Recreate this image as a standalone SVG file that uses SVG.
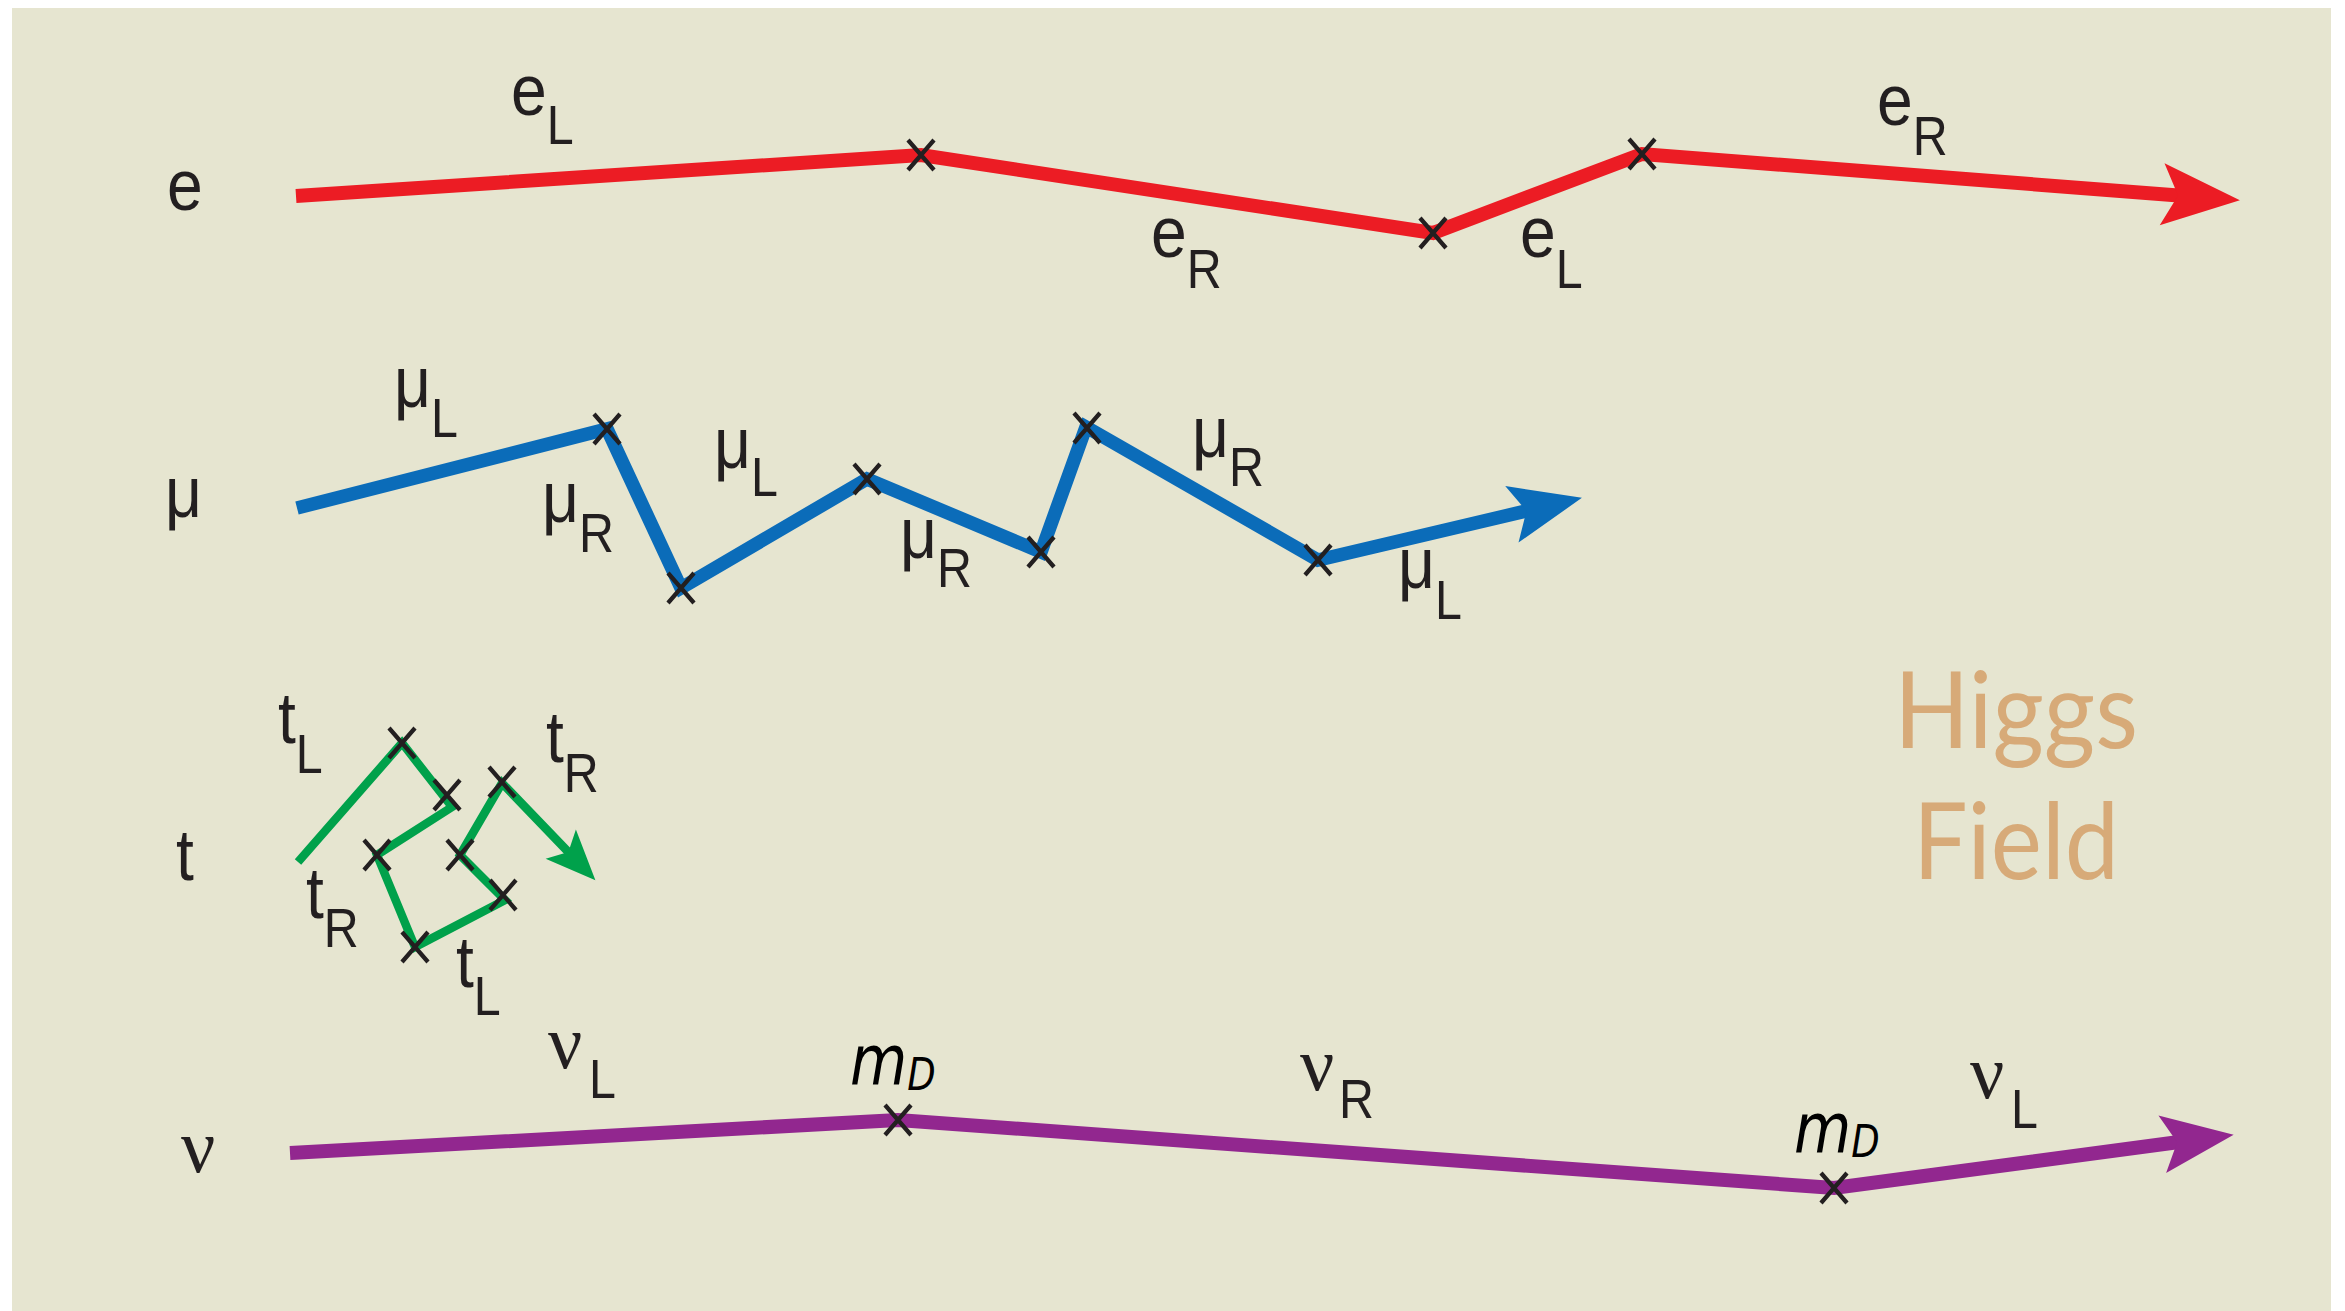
<svg xmlns="http://www.w3.org/2000/svg" xmlns:xlink="http://www.w3.org/1999/xlink" width="2345" height="1311" viewBox="0 0 2345 1311">
<style>
.lbl{font-family:"Liberation Sans",Arial,sans-serif;font-size:73px;fill:#231F20}
.sub{font-size:55px}
.nu{font-family:"Liberation Serif",serif;font-size:76px;fill:#231F20}
.md{font-family:"DejaVu Sans",sans-serif;font-style:italic;font-size:70px;fill:#000}
.mdsub{font-size:44px}
.higgs{font-family:Lato,"Open Sans",sans-serif;font-size:106px;fill:#D7AA78;text-anchor:middle}
.line{fill:none;stroke-linejoin:miter;stroke-miterlimit:3;stroke-linecap:butt}
.red{stroke:#EC1C24;stroke-width:14}
.blue{stroke:#0B6CB9;stroke-width:13.5}
.green{stroke:#00A14B;stroke-width:8.5}
.purple{stroke:#92278F;stroke-width:14}
.xm{fill:none;stroke:#231F20;stroke-width:4.2}
</style>
<defs>
<marker id="ahRed" markerUnits="userSpaceOnUse" markerWidth="84" markerHeight="68" viewBox="0 -34 80 68" refX="36" refY="0" orient="auto"><path d="M0,-31 L78,0 L0,31 L16,0 z" fill="#EC1C24"/></marker>
<marker id="ahBlue" markerUnits="userSpaceOnUse" markerWidth="80" markerHeight="64" viewBox="0 -32 76 64" refX="32" refY="0" orient="auto"><path d="M0,-29 L72,0 L0,29 L15,0 z" fill="#0B6CB9"/></marker>
<marker id="ahPurple" markerUnits="userSpaceOnUse" markerWidth="80" markerHeight="64" viewBox="0 -32 76 64" refX="32" refY="0" orient="auto"><path d="M0,-29 L72,0 L0,29 L15,0 z" fill="#92278F"/></marker>
<marker id="ahGreen" markerUnits="userSpaceOnUse" markerWidth="56" markerHeight="46" viewBox="0 -23 54 46" refX="22" refY="0" orient="auto"><path d="M0,-21 L50,0 L0,21 L11,0 z" fill="#00A14B"/></marker>
<path id="x" class="xm" d="M-13,-15 L13,15 M-13,15 L13,-15"/>
</defs>

<rect x="0" y="0" width="2345" height="1311" fill="#FFFFFF"/>
<rect id="background" x="12" y="8" width="2319" height="1303" fill="#E6E5D0"/>

<g id="connectors">
<polyline id="electron-line" class="line red" points="296,196 921,155 1433,233 1642,154 2198,197" marker-end="url(#ahRed)"/>
<polyline id="muon-line" class="line blue" points="297,508 607,429 681,588 867,479 1041,552 1086,427 1318,560 1543,507" marker-end="url(#ahBlue)"/>
<polyline id="top-line" class="line green" points="298,862 402,743 452,807 377,855 415,947 505,900 460,855 502,783 576,860" marker-end="url(#ahGreen)"/>
<polyline id="neutrino-line" class="line purple" points="290,1153 898,1120 1834,1188 2194,1140" marker-end="url(#ahPurple)"/>
</g>

<g id="mass-insertions">
<use xlink:href="#x" x="921" y="155"/>
<use xlink:href="#x" x="1433" y="233"/>
<use xlink:href="#x" x="1642" y="154"/>
<use xlink:href="#x" x="607" y="429"/>
<use xlink:href="#x" x="681" y="588"/>
<use xlink:href="#x" x="867" y="479"/>
<use xlink:href="#x" x="1041" y="552"/>
<use xlink:href="#x" x="1087" y="428"/>
<use xlink:href="#x" x="1318" y="560"/>
<use xlink:href="#x" x="402" y="743"/>
<use xlink:href="#x" x="447" y="795"/>
<use xlink:href="#x" x="377" y="855"/>
<use xlink:href="#x" x="415" y="947"/>
<use xlink:href="#x" x="503" y="895"/>
<use xlink:href="#x" x="460" y="855"/>
<use xlink:href="#x" x="502" y="782"/>
<use xlink:href="#x" x="898" y="1120"/>
<use xlink:href="#x" x="1834" y="1188"/>
</g>

<g id="node-electron">
<text class="lbl" transform="matrix(0.88 0 0 1 167 210)">e</text>
<text class="lbl" transform="matrix(0.88 0 0 1 511 115)">e<tspan class="sub" dy="29">L</tspan></text>
<text class="lbl" transform="matrix(0.88 0 0 1 1151 257)">e<tspan class="sub" dy="31">R</tspan></text>
<text class="lbl" transform="matrix(0.88 0 0 1 1520 257)">e<tspan class="sub" dy="31">L</tspan></text>
<text class="lbl" transform="matrix(0.88 0 0 1 1877 125)">e<tspan class="sub" dy="30">R</tspan></text>
</g>

<g id="node-muon">
<text class="lbl" transform="matrix(0.88 0 0 1 165 517)">μ</text>
<text class="lbl" transform="matrix(0.88 0 0 1 394 407)">μ<tspan class="sub" dy="30">L</tspan></text>
<text class="lbl" transform="matrix(0.88 0 0 1 542 522)">μ<tspan class="sub" dy="30">R</tspan></text>
<text class="lbl" transform="matrix(0.88 0 0 1 714 468)">μ<tspan class="sub" dy="28">L</tspan></text>
<text class="lbl" transform="matrix(0.88 0 0 1 900 558)">μ<tspan class="sub" dy="29">R</tspan></text>
<text class="lbl" transform="matrix(0.88 0 0 1 1192 457)">μ<tspan class="sub" dy="29">R</tspan></text>
<text class="lbl" transform="matrix(0.88 0 0 1 1398 588)">μ<tspan class="sub" dy="31">L</tspan></text>
</g>

<g id="node-top">
<text class="lbl" transform="matrix(0.88 0 0 1 176 880)">t</text>
<text class="lbl" transform="matrix(0.88 0 0 1 278 743)">t<tspan class="sub" dy="30">L</tspan></text>
<text class="lbl" transform="matrix(0.88 0 0 1 546 762)">t<tspan class="sub" dy="30">R</tspan></text>
<text class="lbl" transform="matrix(0.88 0 0 1 306 918)">t<tspan class="sub" dy="29">R</tspan></text>
<text class="lbl" transform="matrix(0.88 0 0 1 456 987)">t<tspan class="sub" dy="28">L</tspan></text>
</g>

<g id="node-neutrino">
<text class="nu" x="181" y="1172">ν</text>
<text class="nu" x="548" y="1068">ν</text>
<text class="lbl sub" transform="matrix(0.88 0 0 1 589 1098)">L</text>
<text class="nu" x="1300" y="1090">ν</text>
<text class="lbl sub" transform="matrix(0.88 0 0 1 1339 1118)">R</text>
<text class="nu" x="1970" y="1098">ν</text>
<text class="lbl sub" transform="matrix(0.88 0 0 1 2011 1128)">L</text>
<text class="md" transform="matrix(0.84 0 0 1 850 1085)">m<tspan class="mdsub" dy="5">D</tspan></text>
<text class="md" transform="matrix(0.84 0 0 1 1794 1153)">m<tspan class="mdsub" dy="4">D</tspan></text>
</g>

<g id="node-higgs-field">
<text class="higgs" x="2016" y="748" textLength="244" lengthAdjust="spacingAndGlyphs">Higgs</text>
<text class="higgs" x="2016" y="879" textLength="206" lengthAdjust="spacingAndGlyphs">Field</text>
</g>
</svg>
